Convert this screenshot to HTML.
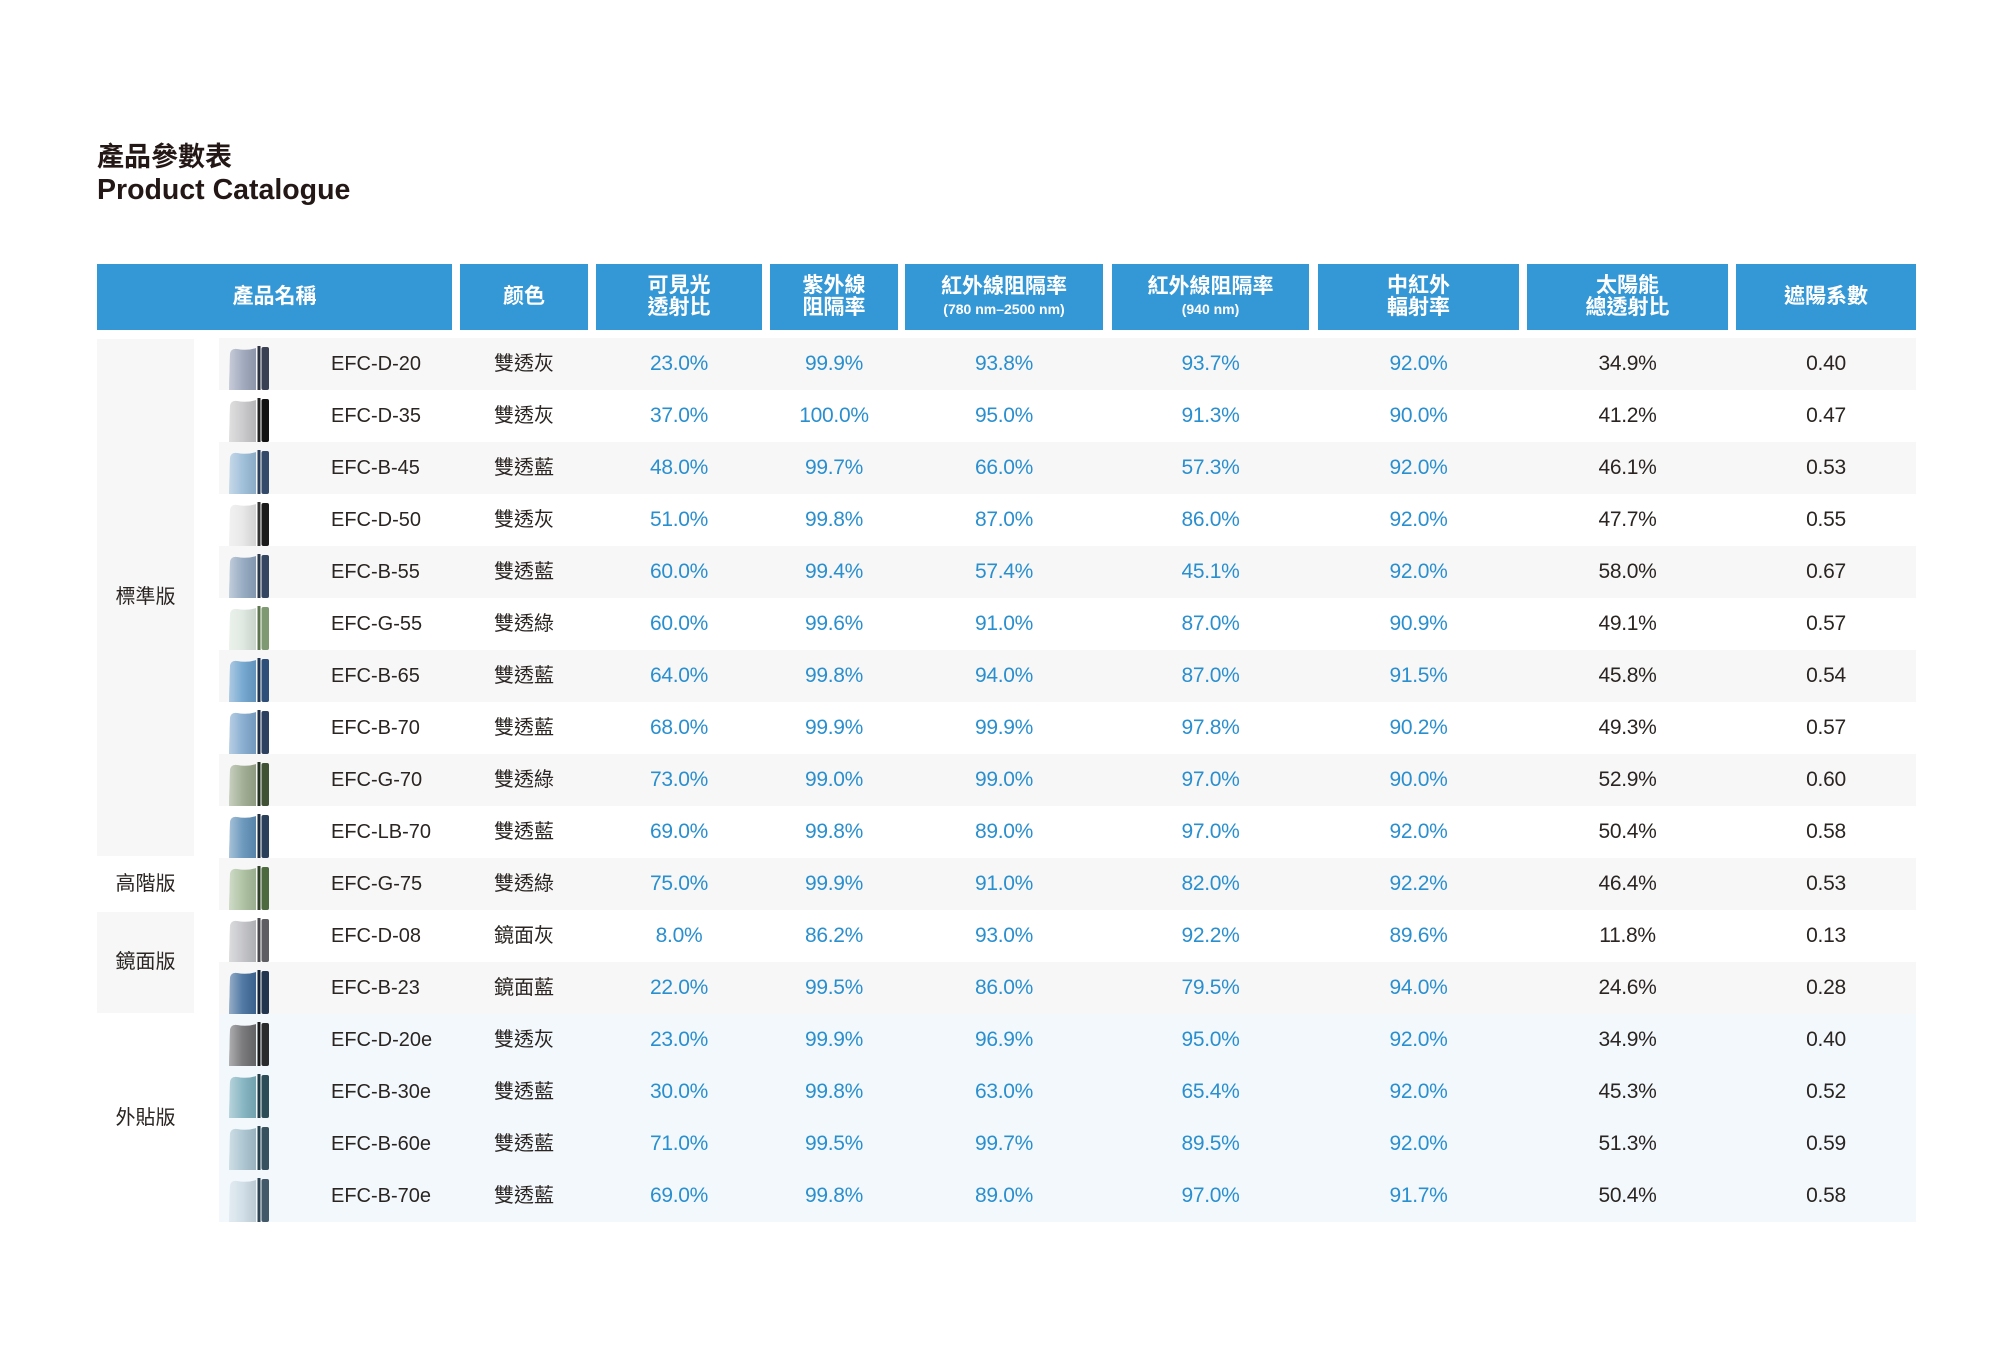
<!DOCTYPE html>
<html><head><meta charset="utf-8">
<style>
*{margin:0;padding:0;box-sizing:border-box}
html,body{width:2000px;height:1360px;background:#fff;overflow:hidden}
body{position:relative;font-family:"Liberation Sans","Noto Sans CJK TC",sans-serif;color:#2a2522}
.t1{position:absolute;left:97px;top:140px;font-size:27px;font-weight:bold;line-height:34px;font-family:"Liberation Sans","Noto Sans CJK TC",sans-serif;color:#231815}
.t2{position:absolute;left:97px;top:173px;font-size:28.5px;font-weight:bold;line-height:34px;color:#231815}
.h{position:absolute;top:264px;height:66px;background:#3497d6;color:#fff;font-weight:bold;font-size:21px;display:flex;flex-direction:column;align-items:center;justify-content:center;text-align:center;line-height:22px}
.h small{font-size:14px;line-height:20px;margin-top:1px}
.row{position:absolute;left:0;width:2000px;height:52px}
.band{position:absolute;left:219px;width:1697px;top:0;height:52px}
.g .band{background:#f7f7f7}
.e .band{background:#f2f8fc}
.row span{position:absolute;top:0;height:52px;line-height:52px;text-align:center;white-space:nowrap}
.n{left:331px;text-align:left!important;font-size:20px}
.c2{left:460px;width:128px;font-size:20px}
.c3{left:596px;width:166px}
.c4{left:770px;width:128px}
.c5{left:905px;width:198px}
.c6{left:1112px;width:197px}
.c7{left:1318px;width:201px}
.c8{left:1527px;width:201px}
.c9{left:1736px;width:180px}
.c3,.c4,.c5,.c6,.c7{color:#2a8fcf;font-size:21px;letter-spacing:-0.3px}
.c8,.c9{color:#2a2522;font-size:21px;letter-spacing:-0.3px}
.row svg{position:absolute;left:226px;top:6px}
.cat{position:absolute;left:97px;width:97px;display:flex;align-items:center;justify-content:center;font-size:20px;color:#2a2522;padding-bottom:6px}
</style></head><body>
<svg width="0" height="0" style="position:absolute">
<defs>
<linearGradient id="hl" x1="0" y1="0" x2="1" y2="0">
<stop offset="0" stop-color="#fff" stop-opacity="0.45"/>
<stop offset="0.5" stop-color="#fff" stop-opacity="0.1"/>
<stop offset="1" stop-color="#000" stop-opacity="0.08"/>
</linearGradient>
</defs>
</svg>

<div class="t1">產品參數表</div>
<div class="t2">Product Catalogue</div>

<div class="h" style="left:97px;width:355px">產品名稱</div>
<div class="h" style="left:460px;width:128px">颜色</div>
<div class="h" style="left:596px;width:166px">可見光<br>透射比</div>
<div class="h" style="left:770px;width:128px">紫外線<br>阻隔率</div>
<div class="h" style="left:905px;width:198px">紅外線阻隔率<small>(780 nm–2500 nm)</small></div>
<div class="h" style="left:1112px;width:197px">紅外線阻隔率<small>(940 nm)</small></div>
<div class="h" style="left:1318px;width:201px">中紅外<br>輻射率</div>
<div class="h" style="left:1527px;width:201px">太陽能<br>總透射比</div>
<div class="h" style="left:1736px;width:180px">遮陽系數</div>

<div class="cat" style="top:339px;height:517px;background:#f7f7f7">標準版</div>
<div class="cat" style="top:858px;height:52px">高階版</div>
<div class="cat" style="top:912px;height:101px;background:#f7f7f7">鏡面版</div>
<div class="cat" style="top:1014px;height:208px">外貼版</div>

<div class="row g" style="top:338px"><div class="band"></div>
<svg width="46" height="46" viewBox="0 0 46 46"><path d="M3 46 L4 10 Q5 4 11 5 Q21 7 30 4 L30 46 Z" fill="#9aa3b9"/><path d="M3 46 L4 10 Q5 4 11 5 Q21 7 30 4 L30 46 Z" fill="url(#hl)"/><rect x="31.5" y="2" width="3" height="44" fill="#2c3142"/><rect x="35.5" y="3" width="7.5" height="43" rx="2" fill="#3a4054"/></svg>
<span class="n">EFC-D-20</span><span class="c2">雙透灰</span><span class="c3">23.0%</span><span class="c4">99.9%</span><span class="c5">93.8%</span><span class="c6">93.7%</span><span class="c7">92.0%</span><span class="c8">34.9%</span><span class="c9">0.40</span></div>

<div class="row" style="top:390px"><div class="band"></div>
<svg width="46" height="46" viewBox="0 0 46 46"><path d="M3 46 L4 10 Q5 4 11 5 Q21 7 30 4 L30 46 Z" fill="#c6c6c8"/><path d="M3 46 L4 10 Q5 4 11 5 Q21 7 30 4 L30 46 Z" fill="url(#hl)"/><rect x="31.5" y="2" width="3" height="44" fill="#222"/><rect x="35.5" y="3" width="7.5" height="43" rx="2" fill="#111"/></svg>
<span class="n">EFC-D-35</span><span class="c2">雙透灰</span><span class="c3">37.0%</span><span class="c4">100.0%</span><span class="c5">95.0%</span><span class="c6">91.3%</span><span class="c7">90.0%</span><span class="c8">41.2%</span><span class="c9">0.47</span></div>

<div class="row g" style="top:442px"><div class="band"></div>
<svg width="46" height="46" viewBox="0 0 46 46"><path d="M3 46 L4 10 Q5 4 11 5 Q21 7 30 4 L30 46 Z" fill="#98bad7"/><path d="M3 46 L4 10 Q5 4 11 5 Q21 7 30 4 L30 46 Z" fill="url(#hl)"/><rect x="31.5" y="2" width="3" height="44" fill="#2b3f5c"/><rect x="35.5" y="3" width="7.5" height="43" rx="2" fill="#334a6a"/></svg>
<span class="n">EFC-B-45</span><span class="c2">雙透藍</span><span class="c3">48.0%</span><span class="c4">99.7%</span><span class="c5">66.0%</span><span class="c6">57.3%</span><span class="c7">92.0%</span><span class="c8">46.1%</span><span class="c9">0.53</span></div>

<div class="row" style="top:494px"><div class="band"></div>
<svg width="46" height="46" viewBox="0 0 46 46"><path d="M3 46 L4 10 Q5 4 11 5 Q21 7 30 4 L30 46 Z" fill="#e6e6e6"/><path d="M3 46 L4 10 Q5 4 11 5 Q21 7 30 4 L30 46 Z" fill="url(#hl)"/><rect x="31.5" y="2" width="3" height="44" fill="#333"/><rect x="35.5" y="3" width="7.5" height="43" rx="2" fill="#1a1a1a"/></svg>
<span class="n">EFC-D-50</span><span class="c2">雙透灰</span><span class="c3">51.0%</span><span class="c4">99.8%</span><span class="c5">87.0%</span><span class="c6">86.0%</span><span class="c7">92.0%</span><span class="c8">47.7%</span><span class="c9">0.55</span></div>

<div class="row g" style="top:546px"><div class="band"></div>
<svg width="46" height="46" viewBox="0 0 46 46"><path d="M3 46 L4 10 Q5 4 11 5 Q21 7 30 4 L30 46 Z" fill="#8ea4bd"/><path d="M3 46 L4 10 Q5 4 11 5 Q21 7 30 4 L30 46 Z" fill="url(#hl)"/><rect x="31.5" y="2" width="3" height="44" fill="#28364a"/><rect x="35.5" y="3" width="7.5" height="43" rx="2" fill="#334560"/></svg>
<span class="n">EFC-B-55</span><span class="c2">雙透藍</span><span class="c3">60.0%</span><span class="c4">99.4%</span><span class="c5">57.4%</span><span class="c6">45.1%</span><span class="c7">92.0%</span><span class="c8">58.0%</span><span class="c9">0.67</span></div>

<div class="row" style="top:598px"><div class="band"></div>
<svg width="46" height="46" viewBox="0 0 46 46"><path d="M3 46 L4 10 Q5 4 11 5 Q21 7 30 4 L30 46 Z" fill="#dce7de"/><path d="M3 46 L4 10 Q5 4 11 5 Q21 7 30 4 L30 46 Z" fill="url(#hl)"/><rect x="31.5" y="2" width="3" height="44" fill="#5d7650"/><rect x="35.5" y="3" width="7.5" height="43" rx="2" fill="#7f9a72"/></svg>
<span class="n">EFC-G-55</span><span class="c2">雙透綠</span><span class="c3">60.0%</span><span class="c4">99.6%</span><span class="c5">91.0%</span><span class="c6">87.0%</span><span class="c7">90.9%</span><span class="c8">49.1%</span><span class="c9">0.57</span></div>

<div class="row g" style="top:650px"><div class="band"></div>
<svg width="46" height="46" viewBox="0 0 46 46"><path d="M3 46 L4 10 Q5 4 11 5 Q21 7 30 4 L30 46 Z" fill="#6aa0cc"/><path d="M3 46 L4 10 Q5 4 11 5 Q21 7 30 4 L30 46 Z" fill="url(#hl)"/><rect x="31.5" y="2" width="3" height="44" fill="#1f3552"/><rect x="35.5" y="3" width="7.5" height="43" rx="2" fill="#2d4e78"/></svg>
<span class="n">EFC-B-65</span><span class="c2">雙透藍</span><span class="c3">64.0%</span><span class="c4">99.8%</span><span class="c5">94.0%</span><span class="c6">87.0%</span><span class="c7">91.5%</span><span class="c8">45.8%</span><span class="c9">0.54</span></div>

<div class="row" style="top:702px"><div class="band"></div>
<svg width="46" height="46" viewBox="0 0 46 46"><path d="M3 46 L4 10 Q5 4 11 5 Q21 7 30 4 L30 46 Z" fill="#7ea7cd"/><path d="M3 46 L4 10 Q5 4 11 5 Q21 7 30 4 L30 46 Z" fill="url(#hl)"/><rect x="31.5" y="2" width="3" height="44" fill="#1f2f48"/><rect x="35.5" y="3" width="7.5" height="43" rx="2" fill="#2c4160"/></svg>
<span class="n">EFC-B-70</span><span class="c2">雙透藍</span><span class="c3">68.0%</span><span class="c4">99.9%</span><span class="c5">99.9%</span><span class="c6">97.8%</span><span class="c7">90.2%</span><span class="c8">49.3%</span><span class="c9">0.57</span></div>

<div class="row g" style="top:754px"><div class="band"></div>
<svg width="46" height="46" viewBox="0 0 46 46"><path d="M3 46 L4 10 Q5 4 11 5 Q21 7 30 4 L30 46 Z" fill="#9aa88c"/><path d="M3 46 L4 10 Q5 4 11 5 Q21 7 30 4 L30 46 Z" fill="url(#hl)"/><rect x="31.5" y="2" width="3" height="44" fill="#233020"/><rect x="35.5" y="3" width="7.5" height="43" rx="2" fill="#3f5234"/></svg>
<span class="n">EFC-G-70</span><span class="c2">雙透綠</span><span class="c3">73.0%</span><span class="c4">99.0%</span><span class="c5">99.0%</span><span class="c6">97.0%</span><span class="c7">90.0%</span><span class="c8">52.9%</span><span class="c9">0.60</span></div>

<div class="row" style="top:806px"><div class="band"></div>
<svg width="46" height="46" viewBox="0 0 46 46"><path d="M3 46 L4 10 Q5 4 11 5 Q21 7 30 4 L30 46 Z" fill="#5f90b8"/><path d="M3 46 L4 10 Q5 4 11 5 Q21 7 30 4 L30 46 Z" fill="url(#hl)"/><rect x="31.5" y="2" width="3" height="44" fill="#1b2a3c"/><rect x="35.5" y="3" width="7.5" height="43" rx="2" fill="#2a405a"/></svg>
<span class="n">EFC-LB-70</span><span class="c2">雙透藍</span><span class="c3">69.0%</span><span class="c4">99.8%</span><span class="c5">89.0%</span><span class="c6">97.0%</span><span class="c7">92.0%</span><span class="c8">50.4%</span><span class="c9">0.58</span></div>

<div class="row g" style="top:858px"><div class="band"></div>
<svg width="46" height="46" viewBox="0 0 46 46"><path d="M3 46 L4 10 Q5 4 11 5 Q21 7 30 4 L30 46 Z" fill="#a8be9c"/><path d="M3 46 L4 10 Q5 4 11 5 Q21 7 30 4 L30 46 Z" fill="url(#hl)"/><rect x="31.5" y="2" width="3" height="44" fill="#2e4026"/><rect x="35.5" y="3" width="7.5" height="43" rx="2" fill="#4c6a3e"/></svg>
<span class="n">EFC-G-75</span><span class="c2">雙透綠</span><span class="c3">75.0%</span><span class="c4">99.9%</span><span class="c5">91.0%</span><span class="c6">82.0%</span><span class="c7">92.2%</span><span class="c8">46.4%</span><span class="c9">0.53</span></div>

<div class="row" style="top:910px"><div class="band"></div>
<svg width="46" height="46" viewBox="0 0 46 46"><path d="M3 46 L4 10 Q5 4 11 5 Q21 7 30 4 L30 46 Z" fill="#bfc0c4"/><path d="M3 46 L4 10 Q5 4 11 5 Q21 7 30 4 L30 46 Z" fill="url(#hl)"/><rect x="31.5" y="2" width="3" height="44" fill="#4a4a4e"/><rect x="35.5" y="3" width="7.5" height="43" rx="2" fill="#5e5e62"/></svg>
<span class="n">EFC-D-08</span><span class="c2">鏡面灰</span><span class="c3">8.0%</span><span class="c4">86.2%</span><span class="c5">93.0%</span><span class="c6">92.2%</span><span class="c7">89.6%</span><span class="c8">11.8%</span><span class="c9">0.13</span></div>

<div class="row g" style="top:962px"><div class="band"></div>
<svg width="46" height="46" viewBox="0 0 46 46"><path d="M3 46 L4 10 Q5 4 11 5 Q21 7 30 4 L30 46 Z" fill="#3f6b9a"/><path d="M3 46 L4 10 Q5 4 11 5 Q21 7 30 4 L30 46 Z" fill="url(#hl)"/><rect x="31.5" y="2" width="3" height="44" fill="#16243a"/><rect x="35.5" y="3" width="7.5" height="43" rx="2" fill="#22354f"/></svg>
<span class="n">EFC-B-23</span><span class="c2">鏡面藍</span><span class="c3">22.0%</span><span class="c4">99.5%</span><span class="c5">86.0%</span><span class="c6">79.5%</span><span class="c7">94.0%</span><span class="c8">24.6%</span><span class="c9">0.28</span></div>

<div class="row e" style="top:1014px"><div class="band"></div>
<svg width="46" height="46" viewBox="0 0 46 46"><path d="M3 46 L4 10 Q5 4 11 5 Q21 7 30 4 L30 46 Z" fill="#6d6d70"/><path d="M3 46 L4 10 Q5 4 11 5 Q21 7 30 4 L30 46 Z" fill="url(#hl)"/><rect x="31.5" y="2" width="3" height="44" fill="#1a1a1a"/><rect x="35.5" y="3" width="7.5" height="43" rx="2" fill="#2a2a2c"/></svg>
<span class="n">EFC-D-20e</span><span class="c2">雙透灰</span><span class="c3">23.0%</span><span class="c4">99.9%</span><span class="c5">96.9%</span><span class="c6">95.0%</span><span class="c7">92.0%</span><span class="c8">34.9%</span><span class="c9">0.40</span></div>

<div class="row e" style="top:1066px"><div class="band"></div>
<svg width="46" height="46" viewBox="0 0 46 46"><path d="M3 46 L4 10 Q5 4 11 5 Q21 7 30 4 L30 46 Z" fill="#7db0be"/><path d="M3 46 L4 10 Q5 4 11 5 Q21 7 30 4 L30 46 Z" fill="url(#hl)"/><rect x="31.5" y="2" width="3" height="44" fill="#1f3a44"/><rect x="35.5" y="3" width="7.5" height="43" rx="2" fill="#2c4c58"/></svg>
<span class="n">EFC-B-30e</span><span class="c2">雙透藍</span><span class="c3">30.0%</span><span class="c4">99.8%</span><span class="c5">63.0%</span><span class="c6">65.4%</span><span class="c7">92.0%</span><span class="c8">45.3%</span><span class="c9">0.52</span></div>

<div class="row e" style="top:1118px"><div class="band"></div>
<svg width="46" height="46" viewBox="0 0 46 46"><path d="M3 46 L4 10 Q5 4 11 5 Q21 7 30 4 L30 46 Z" fill="#a7c2cf"/><path d="M3 46 L4 10 Q5 4 11 5 Q21 7 30 4 L30 46 Z" fill="url(#hl)"/><rect x="31.5" y="2" width="3" height="44" fill="#26404c"/><rect x="35.5" y="3" width="7.5" height="43" rx="2" fill="#37525e"/></svg>
<span class="n">EFC-B-60e</span><span class="c2">雙透藍</span><span class="c3">71.0%</span><span class="c4">99.5%</span><span class="c5">99.7%</span><span class="c6">89.5%</span><span class="c7">92.0%</span><span class="c8">51.3%</span><span class="c9">0.59</span></div>

<div class="row e" style="top:1170px"><div class="band"></div>
<svg width="46" height="46" viewBox="0 0 46 46"><path d="M3 46 L4 10 Q5 4 11 5 Q21 7 30 4 L30 46 Z" fill="#cddce6"/><path d="M3 46 L4 10 Q5 4 11 5 Q21 7 30 4 L30 46 Z" fill="url(#hl)"/><rect x="31.5" y="2" width="3" height="44" fill="#2e4452"/><rect x="35.5" y="3" width="7.5" height="43" rx="2" fill="#42596a"/></svg>
<span class="n">EFC-B-70e</span><span class="c2">雙透藍</span><span class="c3">69.0%</span><span class="c4">99.8%</span><span class="c5">89.0%</span><span class="c6">97.0%</span><span class="c7">91.7%</span><span class="c8">50.4%</span><span class="c9">0.58</span></div>

</body></html>
